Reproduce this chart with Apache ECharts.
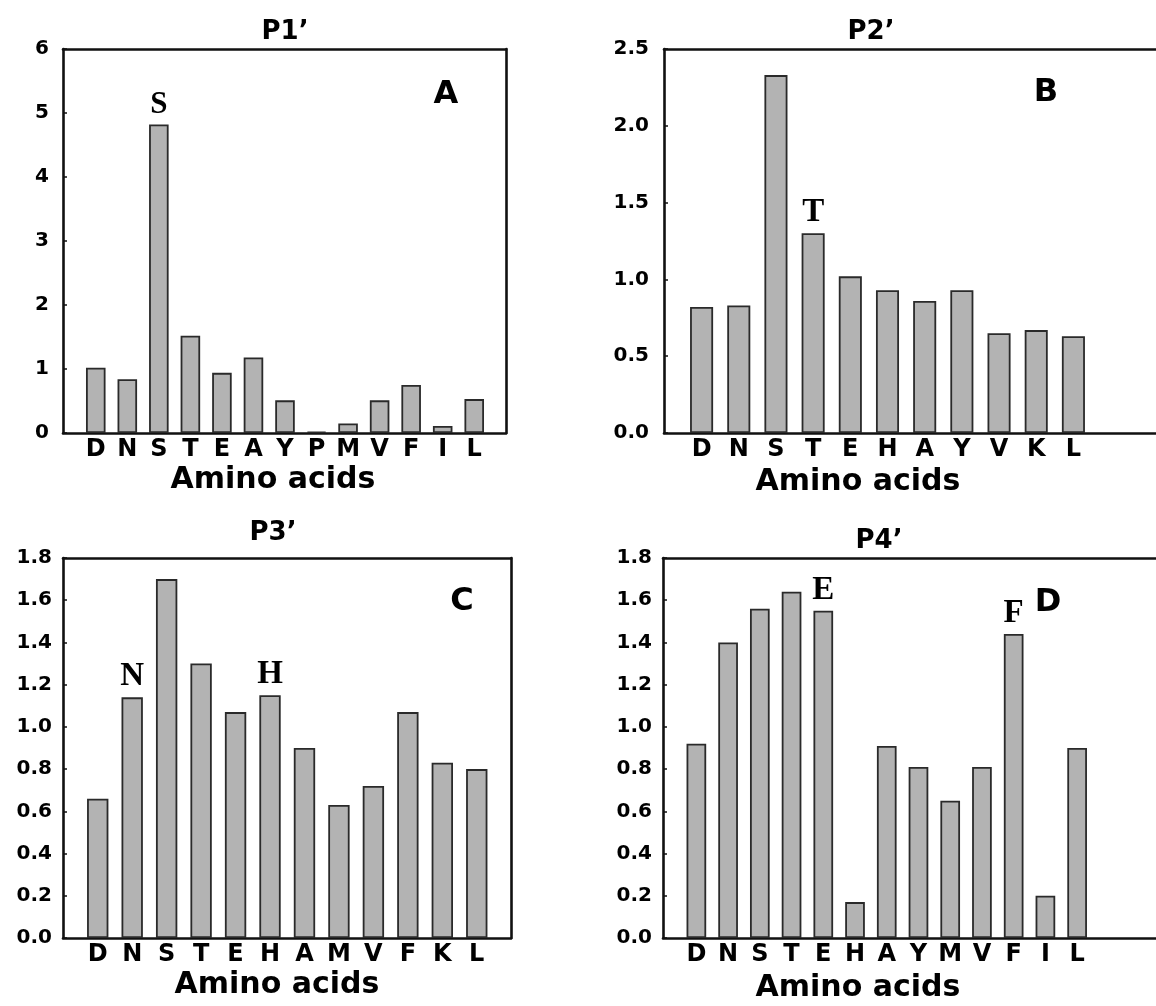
<!DOCTYPE html>
<html>
<head>
<meta charset="utf-8">
<script src="https://cdn.jsdelivr.net/npm/echarts@6/dist/echarts.min.js"></script>
<style>
  html, body { margin: 0; padding: 0; background: #fff; }
  #chart { width: 1156px; height: 1006px; }
</style>
</head>
<body>
<div id="chart"></div>
<script>
// Relative frequency of amino acids at the P1'–P4' subsites
const categoriesA = ['D', 'N', 'S', 'T', 'E', 'A', 'Y', 'P', 'M', 'V', 'F', 'I', 'L'];
const valuesA = [1.02, 0.84, 4.82, 1.52, 0.94, 1.18, 0.51, 0.02, 0.15, 0.51, 0.75, 0.11, 0.53];
const markedA = ['S'];

const categoriesB = ['D', 'N', 'S', 'T', 'E', 'H', 'A', 'Y', 'V', 'K', 'L'];
const valuesB = [0.82, 0.83, 2.33, 1.30, 1.02, 0.93, 0.86, 0.93, 0.65, 0.67, 0.63];
const markedB = ['T'];

const categoriesC = ['D', 'N', 'S', 'T', 'E', 'H', 'A', 'M', 'V', 'F', 'K', 'L'];
const valuesC = [0.66, 1.14, 1.70, 1.30, 1.07, 1.15, 0.90, 0.63, 0.72, 1.07, 0.83, 0.80];
const markedC = ['N', 'H'];

const categoriesD = ['D', 'N', 'S', 'T', 'E', 'H', 'A', 'Y', 'M', 'V', 'F', 'I', 'L'];
const valuesD = [0.92, 1.40, 1.56, 1.64, 1.55, 0.17, 0.91, 0.81, 0.65, 0.81, 1.44, 0.20, 0.90];
const markedD = ['E', 'F'];

const subsiteTitles = ['P1\u2019', 'P2\u2019', 'P3\u2019', 'P4\u2019'];
const panelLetters = ['A', 'B', 'C', 'D'];
const xAxisTitle = 'Amino acids';

// y scales: [min, max, interval, decimals]
const yScaleA = [0, 6, 1, 0];
const yScaleB = [0, 2.5, 0.5, 1];
const yScaleC = [0, 1.8, 0.2, 1];
const yScaleD = [0, 1.8, 0.2, 1];

// ---- layout of the four panels ----
const W = 1156, H = 1006;
const panels = [
  { cats: categoriesA, vals: valuesA, marked: markedA, y: yScaleA,
    frame: { l: 63, t: 49, r: 506, b: 433 }, closed: true, inner: { l: 80, r: 490 },
    title: [285, 32], xname: [273, 480], letter: [446, 95], yMargin: 14, annoSize: 31 },
  { cats: categoriesB, vals: valuesB, marked: markedB, y: yScaleB,
    frame: { l: 664, t: 49, r: W, b: 433 }, closed: false, inner: { l: 683, r: 1092 },
    title: [871, 32], xname: [858, 482], letter: [1046, 93], yMargin: 15, annoSize: 33 },
  { cats: categoriesC, vals: valuesC, marked: markedC, y: yScaleC,
    frame: { l: 63, t: 558, r: 511, b: 938 }, closed: true, inner: { l: 80.5, r: 494 },
    title: [273, 533], xname: [277, 985], letter: [462, 602], yMargin: 11, annoSize: 33 },
  { cats: categoriesD, vals: valuesD, marked: markedD, y: yScaleD,
    frame: { l: 663, t: 558, r: W, b: 938 }, closed: false, inner: { l: 680.5, r: 1093 },
    title: [879, 541], xname: [858, 988], letter: [1048, 603], yMargin: 11, annoSize: 33 }
];

const sans = 'DejaVu Sans';
const frameStyle = { color: '#111', width: 2.6 };
const frameLine = { show: true, onZero: false, lineStyle: frameStyle };
const grid = [], xAxis = [], yAxis = [], series = [], title = [];

panels.forEach((p, k) => {
  const [ymin, ymax, yint, dec] = p.y;
  const outerIdx = grid.length;
  const box = { top: p.frame.t, bottom: H - p.frame.b, outerBoundsMode: 'none' };
  // frame box with the value scale
  grid.push(Object.assign({ left: p.frame.l, right: W - p.frame.r }, box));
  // inset band holding the categories
  grid.push(Object.assign({ left: p.inner.l, right: W - p.inner.r }, box));

  const frameX = pos => ({
    gridIndex: outerIdx, type: 'value', min: 0, max: 1, position: pos,
    axisLine: frameLine, axisTick: { show: false }, axisLabel: { show: false },
    splitLine: { show: false }
  });
  xAxis.push(frameX('bottom'), frameX('top'));
  xAxis.push({
    gridIndex: outerIdx + 1, type: 'category', data: p.cats,
    axisLine: { show: false }, axisTick: { show: false }, splitLine: { show: false },
    axisLabel: { interval: 0, margin: 5, color: '#000', fontFamily: sans,
                 fontWeight: 'bold', fontSize: 24 }
  });

  yAxis.push({
    gridIndex: outerIdx, type: 'value', min: ymin, max: ymax, interval: yint,
    position: 'left', axisLine: frameLine, splitLine: { show: false },
    axisTick: { show: true, inside: true, length: 4, lineStyle: { color: '#111', width: 1.5 } },
    axisLabel: { margin: p.yMargin, color: '#000', fontFamily: sans, fontWeight: 'bold',
                 fontSize: 20, formatter: v => v.toFixed(dec) }
  });
  yAxis.push({
    gridIndex: outerIdx, type: 'value', min: ymin, max: ymax, position: 'right',
    axisLine: { show: p.closed, onZero: false, lineStyle: frameStyle },
    axisTick: { show: false }, axisLabel: { show: false }, splitLine: { show: false }
  });
  yAxis.push({ gridIndex: outerIdx + 1, type: 'value', min: ymin, max: ymax, show: false });

  series.push({
    type: 'bar',
    xAxisIndex: xAxis.length - 1, yAxisIndex: yAxis.length - 1,
    barWidth: '62%',
    itemStyle: { color: '#b3b3b3', borderColor: '#2a2a2a', borderWidth: 1.8 },
    label: {
      position: 'top', distance: 4, formatter: '{b}', color: '#000',
      fontFamily: 'Liberation Serif', fontWeight: 'bold', fontSize: p.annoSize
    },
    data: p.cats.map((c, i) => ({
      value: p.vals[i],
      label: { show: p.marked.includes(c) }
    }))
  });

  const txt = (s, pos, size) => ({
    text: s, left: pos[0], top: pos[1], padding: 0,
    textAlign: 'center', textVerticalAlign: 'middle',
    textStyle: { fontFamily: sans, fontWeight: 'bold', fontSize: size, color: '#000' }
  });
  title.push(txt(subsiteTitles[k], p.title, 26));
  title.push(txt(xAxisTitle, p.xname, 30));
  title.push(txt(panelLetters[k], p.letter, 32));
});

const chart = echarts.init(document.getElementById('chart'), null, { renderer: 'canvas' });
chart.setOption({
  backgroundColor: '#fff',
  animation: false,
  title, grid, xAxis, yAxis, series
});
</script>
</body>
</html>
